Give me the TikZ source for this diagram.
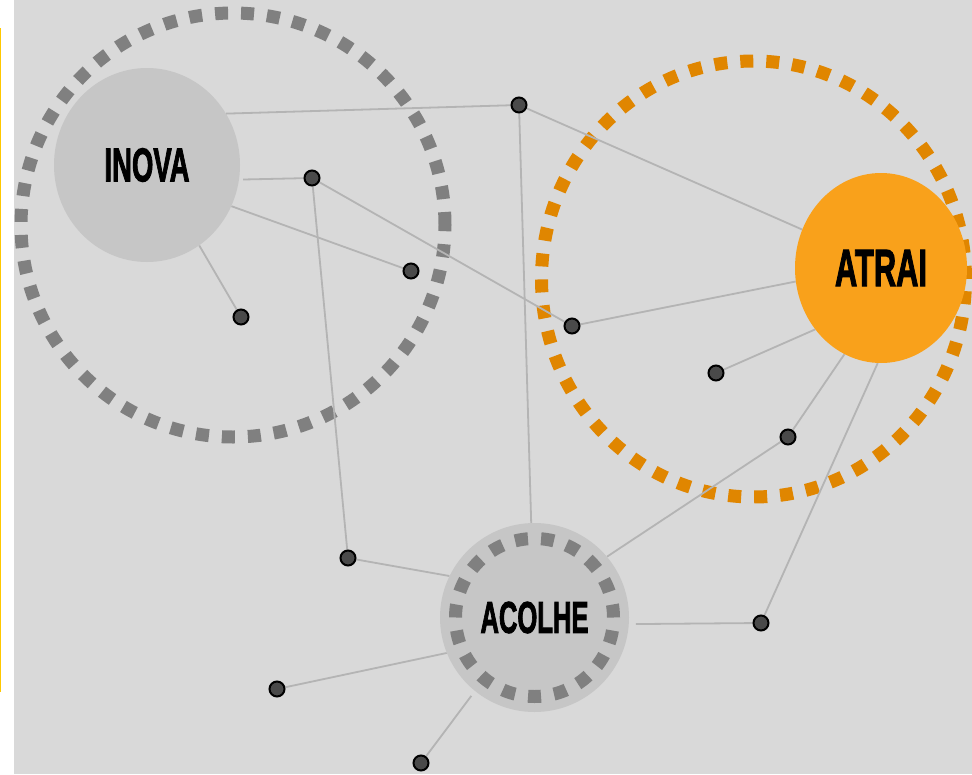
\documentclass[tikz,border=0pt]{standalone}
\usepackage{fontspec}
\usepackage{graphicx}
\usetikzlibrary{shapes.geometric}
\newfontfamily\lblfont{Liberation Sans}[UprightFont=* Bold, FakeBold=2.5]
\definecolor{bgc}{HTML}{D9D9D9}
\definecolor{bubblec}{HTML}{C6C6C6}
\definecolor{ringgray}{HTML}{808080}
\definecolor{ringorange}{HTML}{E08600}
\definecolor{atraifill}{HTML}{F9A11B}
\definecolor{linkc}{HTML}{B4B4B4}
\definecolor{dotc}{HTML}{4A4A4A}
\definecolor{accent}{HTML}{FFC800}
\pgfdeclarelayer{bg}
\pgfdeclarelayer{lines}
\pgfsetlayers{bg,lines,main}
\tikzset{
  ring/.style={line width=13pt, dash pattern=on 13pt off 13pt},
  bubble/.style={ellipse, fill=bubblec, draw=none, inner sep=0pt},
  link/.style={draw=linkc, line width=1.8pt},
  dotnode/.style={circle, draw=black, fill=dotc, line width=2pt, minimum size=15pt, inner sep=0pt}
}
\begin{document}
\begin{tikzpicture}[x=1pt,y=-1pt]
\useasboundingbox (0,0) rectangle (972,774);
\begin{pgfonlayer}{bg}
  \fill[white] (0,0) rectangle (972,774);
  \fill[bgc] (14,0) rectangle (972,774);
  \fill[accent] (0,28) rectangle (1.2,692);
  \draw[ring, ringgray] (233,225) circle (212pt);
  \draw[ring, ringorange] (753.5,279) ellipse (212pt and 218pt);
\end{pgfonlayer}

% bubbles
\node[bubble, minimum width=186pt, minimum height=194pt] (inova) at (147,165)
  {\resizebox{85pt}{33pt}{\lblfont INOVA}};
\node[bubble, fill=atraifill, minimum width=172pt, minimum height=190pt] (atrai) at (881,268)
  {\resizebox{92pt}{36pt}{\lblfont ATRAI}};
\node[bubble, minimum width=189pt, minimum height=189pt] (acolhe) at (534.5,617.5)
  {\resizebox{108pt}{31pt}{\lblfont ACOLHE}};
\draw[ring, ringgray, dash pattern=on 13pt off 13.13pt] (acolhe.center) circle (79pt);

% dots
\node[dotnode] (d1) at (519,105) {};
\node[dotnode] (d2) at (312,178) {};
\node[dotnode] (d3) at (411,271) {};
\node[dotnode] (d4) at (241,317) {};
\node[dotnode] (d5) at (572,326) {};
\node[dotnode] (d6) at (716,373) {};
\node[dotnode] (d7) at (788,437) {};
\node[dotnode] (d8) at (348,558) {};
\node[dotnode] (d9) at (761,623) {};
\node[dotnode] (d10) at (277,689) {};
\node[dotnode] (d11) at (421,763) {};

\begin{pgfonlayer}{lines}
  \draw[link] (inova.33.4) -- (d1);
  \draw[link, shorten <=4pt] (inova.-9) -- (d2);
  \draw[link] (inova.-26.6) -- (d3);
  \draw[link] (inova.-57.5) -- (d4);
  \draw[link] (d1) -- (atrai.154.9);
  \draw[link] (d1) -- (acolhe.92.4);
  \draw[link] (d2) -- (d5);
  \draw[link] (d2) -- (d8);
  \draw[link] (d5) -- (atrai.189.2);
  \draw[link] (d6) -- (atrai.223.2);
  \draw[link] (d7) -- (atrai.247.5);
  \draw[link] (d7) -- (acolhe.40);
  \draw[link] (atrai.268.8) -- (d9);
  \draw[link] (d8) -- (acolhe.154.3);
  \draw[link, shorten <=7pt] (acolhe.-4.2) -- (d9);
  \draw[link] (acolhe.202.2) -- (d10);
  \draw[link, shorten <=6pt] (acolhe.231.8) -- (d11);
\end{pgfonlayer}
\end{tikzpicture}
\end{document}
